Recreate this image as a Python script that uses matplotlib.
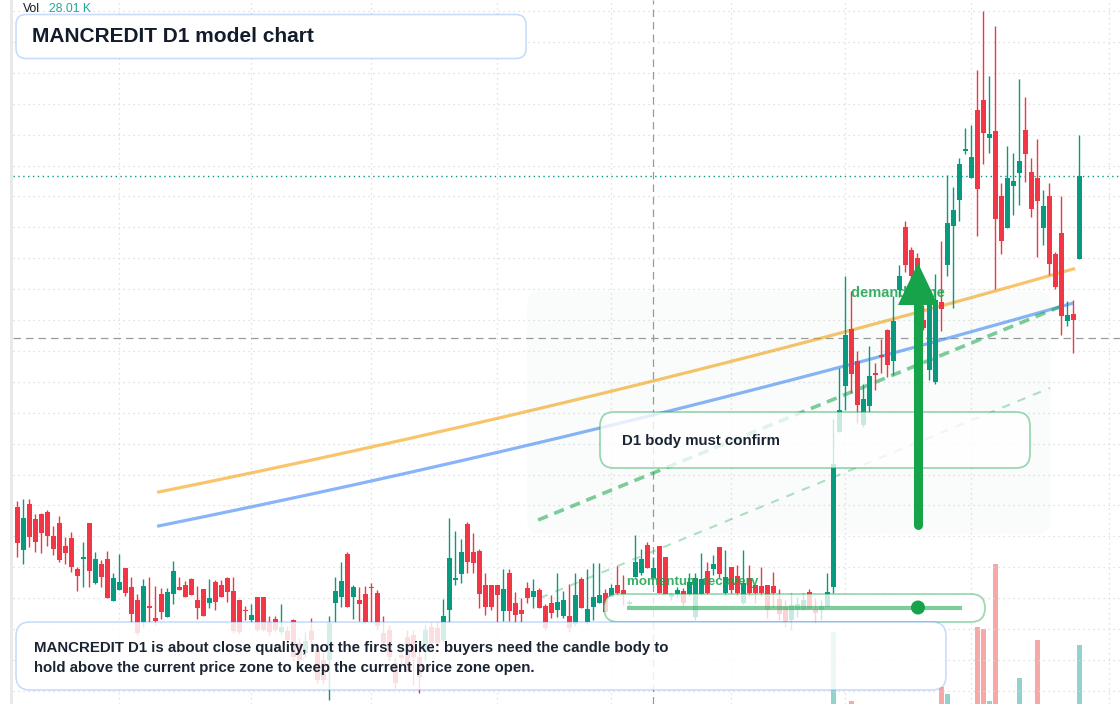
import numpy as np
import matplotlib
matplotlib.use("Agg")
import matplotlib.pyplot as plt
from matplotlib.patches import FancyBboxPatch, Polygon, Circle, Rectangle

# ---------------- data ----------------
opens = [29.3, 25.0, 29.6, 28.1, 28.6, 28.8, 26.4, 27.7, 25.4, 26.2,
         23.1, 24.1, 27.7, 21.7, 23.6, 24.1, 19.9, 21.0, 23.2, 21.3,
         20.0, 17.8, 19.4, 18.2, 20.6, 18.3, 20.6, 21.3, 21.5, 22.1,
         20.0, 21.1, 19.7, 21.8, 21.5, 22.2, 20.9, 20.0, 19.0, 18.0,
         20.3, 20.3, 17.8, 18.1, 16.8, 16.9, 18.0, 15.7, 14.7, 16.9,
         15.0, 14.0, 14.0, 19.7, 20.3, 24.6, 20.3, 20.0, 20.6, 21.3,
         20.7, 16.7, 17.0, 13.7, 14.5, 16.3, 16.5, 14.3, 14.8, 17.3,
         17.2, 16.0, 19.0, 22.0, 22.6, 27.6, 24.8, 24.9, 21.5, 21.5,
         21.5, 18.9, 22.7, 19.7, 19.0, 21.2, 20.3, 21.0, 19.4, 19.7,
         19.0, 18.4, 18.4, 17.6, 22.1, 17.8, 19.3, 19.7, 20.7, 20.3,
         21.5, 21.0, 19.6, 22.3, 22.7, 25.5, 22.2, 25.4, 24.3, 20.3,
         20.6, 20.9, 20.6, 18.3, 20.6, 22.9, 23.1, 25.3, 20.7, 23.3,
         22.4, 19.7, 22.2, 21.5, 21.4, 21.5, 21.4, 20.1, 19.3, 18.0,
         19.0, 19.0, 20.8, 19.1, 19.0, 19.3, 21.3, 36.8, 41.4, 47.1,
         43.9, 37.5, 39.4, 42.7, 44.5, 47.0, 43.9, 51.0, 57.3, 55.0,
         54.2, 48.0, 43.0, 41.8, 49.8, 53.5, 57.4, 60.0, 64.9, 62.2,
         69.0, 70.0, 66.2, 66.9, 60.4, 57.2, 61.4, 62.7, 67.0, 62.8,
         62.2, 57.2, 60.4, 54.6, 56.7, 47.9, 48.6, 54.1]
highs = [29.9, 30.1, 30.1, 28.6, 28.7, 29.0, 27.4, 28.4, 26.3, 26.8,
         23.3, 25.8, 27.7, 24.8, 24.0, 24.9, 22.7, 24.6, 23.2, 22.3,
         20.6, 22.1, 22.3, 21.4, 21.2, 21.2, 23.9, 22.3, 21.9, 22.2,
         21.4, 21.1, 22.1, 22.0, 22.0, 22.3, 22.3, 20.0, 19.4, 19.6,
         20.3, 20.3, 18.4, 18.4, 19.6, 17.4, 18.1, 16.2, 16.8, 18.2,
         15.5, 14.8, 18.4, 22.3, 23.8, 24.8, 21.5, 21.3, 21.4, 21.7,
         21.0, 18.4, 17.5, 14.2, 15.0, 17.0, 17.0, 15.0, 17.5, 17.8,
         17.8, 20.1, 28.2, 26.9, 26.1, 27.8, 26.7, 25.1, 22.7, 21.5,
         21.5, 23.1, 23.1, 20.8, 20.2, 21.8, 22.1, 21.2, 19.6, 20.5,
         22.7, 20.9, 21.6, 22.7, 22.3, 23.1, 23.7, 23.7, 21.1, 21.6,
         23.4, 22.5, 20.0, 26.5, 25.1, 25.8, 24.3, 25.4, 24.3, 20.7,
         21.3, 21.2, 22.7, 22.7, 24.7, 23.8, 24.5, 25.3, 25.0, 23.3,
         23.5, 25.0, 23.5, 21.5, 23.3, 21.5, 22.8, 21.1, 20.0, 20.7,
         20.3, 20.7, 21.1, 20.2, 20.0, 22.7, 38.1, 43.2, 52.4, 50.9,
         44.9, 41.6, 45.4, 43.7, 46.1, 47.1, 50.4, 53.5, 57.9, 55.3,
         54.7, 49.5, 50.8, 52.6, 55.9, 62.5, 61.3, 64.2, 67.2, 67.5,
         73.0, 78.9, 72.4, 77.4, 61.7, 65.4, 64.7, 72.1, 70.3, 64.2,
         66.1, 61.0, 61.7, 54.8, 60.4, 49.9, 50.0, 66.5]
lows = [24.3, 23.6, 25.3, 24.8, 24.7, 25.4, 24.5, 23.8, 23.6, 22.8,
        20.9, 21.3, 21.3, 21.6, 21.3, 20.2, 19.9, 21.0, 20.4, 17.8,
        16.5, 17.3, 17.8, 17.5, 18.1, 18.3, 19.6, 21.0, 20.3, 20.5,
        18.1, 18.4, 19.2, 19.0, 20.3, 19.8, 16.7, 16.6, 18.0, 17.8,
        16.9, 16.9, 16.4, 16.8, 16.6, 15.5, 14.0, 13.0, 14.3, 15.5,
        11.7, 11.6, 10.0, 17.8, 19.3, 19.3, 18.1, 17.9, 17.6, 17.8,
        17.0, 15.4, 14.0, 11.2, 13.5, 12.8, 11.5, 10.7, 14.0, 15.2,
        15.2, 15.8, 17.8, 21.5, 21.7, 22.7, 22.7, 19.2, 18.5, 19.0,
        17.8, 17.9, 17.9, 17.8, 17.8, 19.7, 19.2, 19.2, 17.0, 18.2,
        18.3, 18.2, 16.8, 17.4, 19.2, 17.6, 18.0, 19.7, 18.8, 20.3,
        20.4, 19.5, 19.4, 22.3, 22.5, 23.2, 22.2, 20.7, 20.6, 20.0,
        20.3, 19.4, 20.4, 18.0, 20.6, 20.6, 22.5, 22.2, 20.4, 20.7,
        20.4, 19.6, 20.4, 19.7, 20.4, 18.2, 19.2, 18.0, 17.3, 17.0,
        18.3, 19.0, 19.1, 17.7, 18.0, 19.3, 20.7, 36.8, 39.0, 40.7,
        37.7, 37.3, 38.8, 41.0, 42.7, 42.3, 42.5, 50.3, 52.8, 51.7,
        48.2, 47.0, 42.0, 41.6, 46.9, 52.4, 49.2, 57.9, 64.6, 62.2,
        56.4, 63.6, 64.7, 51.1, 54.6, 57.2, 58.5, 59.5, 61.8, 58.3,
        54.3, 55.5, 52.5, 51.1, 46.5, 47.4, 44.7, 54.1]
closes = [25.7, 28.2, 26.3, 25.8, 26.7, 26.4, 25.1, 24.0, 24.7, 23.3,
          22.4, 24.3, 22.9, 24.1, 22.3, 20.2, 22.2, 21.8, 20.7, 18.6,
          16.7, 21.4, 19.2, 17.9, 18.8, 20.8, 22.9, 21.0, 20.3, 20.5,
          19.2, 18.4, 20.2, 19.8, 20.3, 20.8, 16.9, 16.8, 18.9, 18.5,
          17.0, 17.0, 16.8, 17.0, 17.3, 16.0, 14.3, 14.0, 15.9, 16.0,
          12.0, 12.0, 17.7, 20.9, 21.9, 19.3, 21.3, 19.6, 17.8, 21.2,
          17.4, 15.7, 14.3, 11.7, 14.2, 13.5, 14.3, 12.3, 17.0, 15.7,
          15.7, 18.4, 24.2, 22.2, 24.8, 23.8, 23.7, 20.6, 19.3, 19.3,
          20.5, 21.1, 18.9, 18.5, 18.6, 20.2, 20.9, 19.2, 17.2, 18.7,
          19.8, 20.0, 17.2, 20.5, 19.2, 19.1, 20.3, 20.5, 18.8, 21.2,
          20.7, 20.6, 19.8, 23.8, 24.1, 23.2, 23.2, 20.7, 20.6, 20.6,
          21.0, 19.7, 21.8, 22.2, 22.1, 20.7, 23.6, 22.6, 22.3, 21.0,
          20.7, 21.7, 20.7, 20.7, 20.7, 19.0, 20.7, 18.6, 17.8, 19.5,
          19.6, 20.0, 19.1, 18.7, 19.4, 20.8, 33.6, 39.0, 46.5, 42.6,
          39.5, 40.1, 42.4, 42.5, 44.3, 43.5, 47.9, 52.4, 53.5, 52.4,
          50.0, 47.2, 50.0, 50.0, 49.1, 57.7, 59.0, 63.6, 65.1, 64.3,
          61.1, 66.7, 66.6, 58.1, 55.9, 62.2, 61.9, 63.9, 64.6, 59.1,
          59.9, 59.4, 53.6, 51.3, 48.4, 48.5, 48.0, 62.4]

# volume (thousands) from the spike candle onward; earlier bars are not visible
vol_start = 136
volumes_k = [34.3, 0, 0, 1.6, 0, 0, 0, 0, 0, 0,
             0, 0, 0, 0, 0, 0, 0, 0, 8.2, 4.8,
             0, 0, 0, 0, 36.7, 35.7, 1.4, 66.7, 0, 0,
             0, 12.4, 0, 0, 30.5, 0, 0, 0, 0, 0,
             0, 28.01]

month_ticks = [17, 39, 59, 80, 99, 119, 138, 159, 182]

orange_idx = [23.3, 33.8, 99.1, 138.0, 176.3]
orange_val = [30.8, 32.0, 41.0, 46.7, 53.2]
blue_idx = [23.3, 59.1, 83.8, 138.0, 176.0]
blue_val = [27.3, 32.0, 35.4, 43.2, 49.8]
trend_main_idx = [86.8, 174.1]
trend_main_val = [28.0, 49.4]
trend_low_idx = [87.1, 172.1]
trend_low_val = [20.2, 41.2]
cross_idx = 106
cross_val = 46.2

title = "MANCREDIT D1 model chart"
note_lines = ["MANCREDIT D1 is about close quality, not the first spike: buyers need the candle body to",
              "hold above the current price zone to keep the current price zone open."]

# ---------------- figure ----------------
W, H = 1120, 704
fig = plt.figure(figsize=(W / 100, H / 100), dpi=100)
fig.patch.set_facecolor("white")

rect = [13 / W, 0, (W - 13) / W, 1]
ax = fig.add_axes(rect)
axv = ax.twinx()
axv.set_zorder(0)
ax.set_zorder(1)
ax.patch.set_visible(False)

n = len(opens)
idx = np.arange(n)
o = np.array(opens); h = np.array(highs); l = np.array(lows); c = np.array(closes)
up = c >= o
UP, DN = "#089981", "#f23645"
cols = np.where(up, UP, DN)

ax.set_xlim(-0.717, -0.717 + (W - 13) / 6.0)
ax.set_ylim(9.6, 80.0)

# grid
for t in month_ticks:
    ax.axvline(t, color="#d9d9d9", lw=0.9, ls=(0, (1, 3)), zorder=0)
for p in np.arange(10.92, 79.5, 3.09):
    ax.axhline(p, color="#d9d9d9", lw=0.9, ls=(0, (1, 3)), zorder=0)

# trend / average lines
xs = np.linspace(orange_idx[0], orange_idx[-1], 200)
ax.plot(xs, np.polyval(np.polyfit(orange_idx, orange_val, 2), xs), color="#f59e0b", alpha=0.6, lw=2.3, zorder=2, solid_capstyle="butt")
xs = np.linspace(blue_idx[0], blue_idx[-1], 200)
ax.plot(xs, np.polyval(np.polyfit(blue_idx, blue_val, 2), xs), color="#3b82f6", alpha=0.6, lw=2.3, zorder=2, solid_capstyle="butt")
ax.plot(trend_main_idx, trend_main_val, color="#16a34a", alpha=0.55, lw=2.6, ls=(0, (2.9, 1.9)), zorder=2)
ax.plot(trend_low_idx, trend_low_val, color="#16a34a", alpha=0.33, lw=1.5, ls=(0, (4, 4)), zorder=2)

# crosshair and last price
ax.axvline(cross_idx, color="#9a9a9a", lw=0.9, ls=(0, (6, 4)), zorder=1)
ax.axhline(cross_val, color="#9a9a9a", lw=0.9, ls=(0, (6, 4)), zorder=1)
ax.axhline(closes[-1], color=UP, lw=1.0, ls=(0, (1, 2.5)), zorder=1)

# candles
ax.vlines(idx, l, h, colors=cols, lw=1.0, zorder=3)
body_lo = np.minimum(o, c)
body_h = np.maximum(np.abs(c - o), 0.15)
ax.bar(idx, body_h, bottom=body_lo, width=0.78, color=cols, linewidth=0, zorder=4)

# volume
vidx = np.arange(vol_start, vol_start + len(volumes_k))
vcols = ["#26a69a" if up[i] else "#ef5350" for i in vidx]
axv.bar(vidx, volumes_k, width=0.78, color=vcols, alpha=0.5, linewidth=0)
axv.set_ylim(0, H / 2.1)

for a in (ax, axv):
    a.set_xticks([]); a.set_yticks([])
    for s in a.spines.values():
        s.set_visible(False)

# ---------------- overlay in pixel coordinates ----------------
ov = fig.add_axes([0, 0, 1, 1])
ov.set_zorder(5)
ov.set_xlim(0, W); ov.set_ylim(H, 0)
ov.axis("off")
ov.patch.set_visible(False)

ov.add_patch(Rectangle((9.5, 0), 3.5, H, color="#e9e9e9", lw=0))

GREEN = "#16a34a"
green_edge = (22 / 255, 163 / 255, 74 / 255, 0.42)
blue_edge = (59 / 255, 130 / 255, 246 / 255, 0.28)
FONT = "Liberation Sans"

# demand zone shading
ov.add_patch(FancyBboxPatch((527, 291), 524, 243, boxstyle="round,pad=0,rounding_size=14",
                            facecolor=(22 / 255, 163 / 255, 74 / 255, 0.022), edgecolor="none"))
ov.text(851, 293, "demand zone", color=GREEN, alpha=0.85, fontsize=10.5, fontweight="bold",
        family=FONT, va="center", ha="left")

# arrow
ov.plot([918, 918], [525, 300], color=GREEN, lw=6.5, solid_capstyle="round")
ov.add_patch(Polygon([(898, 305), (938, 305), (918, 263)], closed=True, color=GREEN, lw=0))

# D1 body box
ov.add_patch(FancyBboxPatch((600, 412), 430, 56, boxstyle="round,pad=0,rounding_size=14",
                            facecolor=(1, 1, 1, 0.78), edgecolor=green_edge, lw=1.3))
ov.text(622, 441.5, "D1 body must confirm", color="#1b2433", fontsize=10.8, fontweight="bold",
        family=FONT, va="center", ha="left")

# momentum recovery
ov.text(627, 582, "momentum recovery", color=GREEN, alpha=0.85, fontsize=9.6, fontweight="bold",
        family=FONT, va="center", ha="left")
ov.add_patch(FancyBboxPatch((604, 594), 381, 28, boxstyle="round,pad=0,rounding_size=14",
                            facecolor=(1, 1, 1, 0.78), edgecolor=green_edge, lw=1.3))
ov.plot([627, 962], [607.5, 607.5], color=GREEN, alpha=0.55, lw=3.0, solid_capstyle="butt")
ov.add_patch(Circle((918, 607.5), 7, color=GREEN, lw=0))

# bottom note
ov.add_patch(FancyBboxPatch((16, 622), 930, 68, boxstyle="round,pad=0,rounding_size=14",
                            facecolor=(1, 1, 1, 0.84), edgecolor=blue_edge, lw=1.2))
ov.text(34, 648, note_lines[0], color="#1b2433", fontsize=10.8, fontweight="bold",
        family=FONT, va="center", ha="left")
ov.text(34, 668, note_lines[1], color="#1b2433", fontsize=10.8, fontweight="bold",
        family=FONT, va="center", ha="left")

# title
ov.add_patch(FancyBboxPatch((16, 14.5), 510, 44, boxstyle="round,pad=0,rounding_size=10",
                            facecolor=(1, 1, 1, 0.95), edgecolor=blue_edge, lw=1.2))
ov.text(32, 36.5, title, color="#131c2b", fontsize=15, fontweight="bold",
        family=FONT, va="center", ha="left")

# volume legend
ov.text(23, 8.5, "Vol", color="#131722", fontsize=8.8, family=FONT, va="center", ha="left")
ov.text(49, 8.5, f"{volumes_k[-1]:.2f} K", color="#26a69a", fontsize=8.8, family=FONT,
        va="center", ha="left")

fig.savefig("out.png", dpi=100, facecolor="white")
